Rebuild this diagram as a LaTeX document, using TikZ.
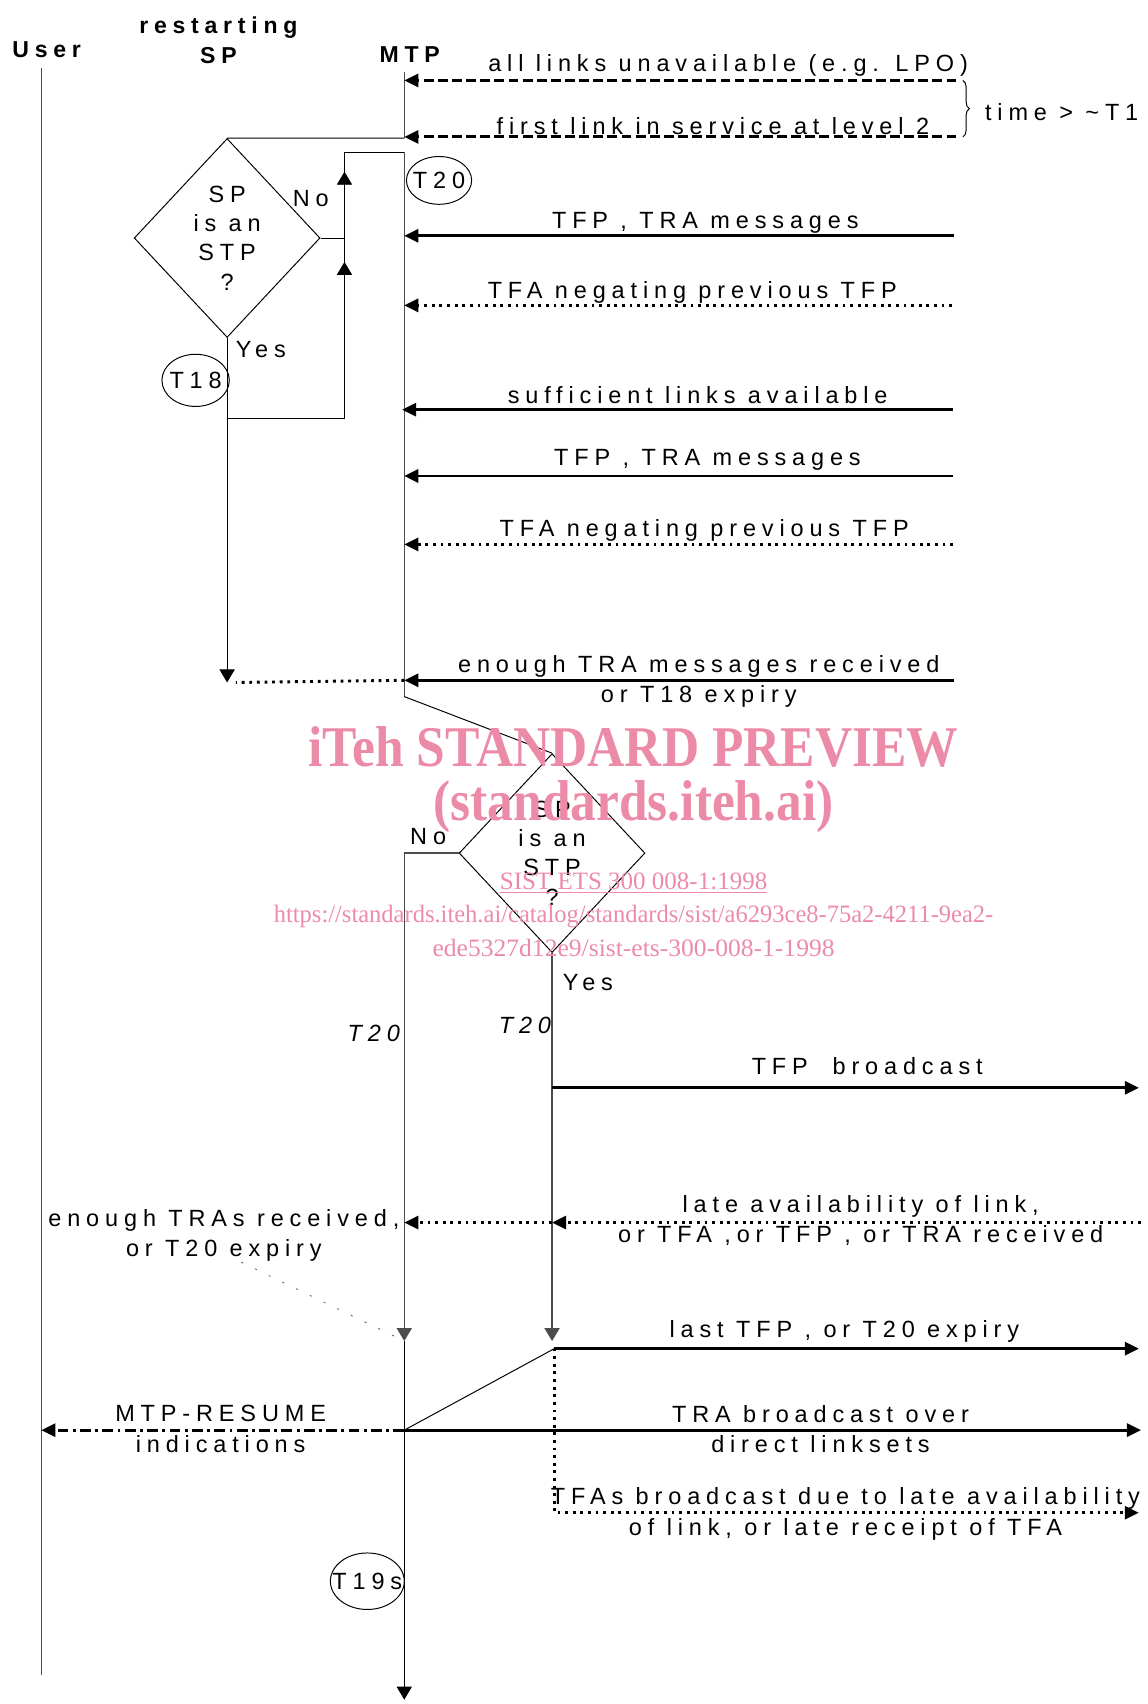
\documentclass[tikz,border=0pt]{standalone}
\usepackage{fontspec}
\setmainfont{Liberation Sans}
\newfontfamily\msgfont[LetterSpace=25]{Liberation Sans}
\newfontfamily\markfont{Liberation Serif}
\usepackage{graphicx}
\usepackage{xcolor}
\usepackage{tikz}
\usetikzlibrary{positioning, arrows.meta, shapes.geometric, calc, decorations.pathreplacing}

\definecolor{markpink}{RGB}{236,139,168}

\begin{document}
\begin{tikzpicture}[
    x=0.5pt, y=-0.5pt,
    txt/.style={font=\msgfont\fontsize{10.8}{14}\selectfont, align=center, inner sep=0pt},
    hdr/.style={txt, font=\msgfont\bfseries\fontsize{10.6}{13.5}\selectfont},
    timer/.style={txt, draw, ellipse, line width=0.45pt},
    decide/.style={txt, draw, diamond, line width=0.45pt, minimum width=85.5pt,
        minimum height=91.5pt, font=\msgfont\fontsize{10.8}{13.5}\selectfont},
    life/.style={draw=black!70, line width=0.6pt},
    flow/.style={draw=black, line width=0.45pt},
    flowarr/.style={flow, -{Triangle[length=6pt, width=7pt]}},
    msg/.style={-{Triangle[length=6.5pt, width=6pt]}, draw=black, line width=1.35pt},
    msgdash/.style={msg, dash pattern=on 4.5pt off 2pt},
    msgdot/.style={msg, dash pattern=on 1.3pt off 2.2pt},
    msgdashdot/.style={msg, dash pattern=on 5pt off 2pt on 1.3pt off 2pt},
    hint/.style={draw=black!60, line width=0.4pt, dash pattern=on 1pt off 6pt},
    wmark/.style={text=markpink, inner sep=0pt},
]
\useasboundingbox (0,0) rectangle (1056,1568);

% Lifeline heads
\node[hdr] (user) at (43,46) {User};
\node[hdr] (rsp) at (201,37) {restarting\\SP};
\node[hdr] (mtp) at (377,50) {MTP};

% Lifeline points
\coordinate (u0) at (38,63);
\coordinate (u1) at (38,1541);
\coordinate (m0) at (372,66);
\coordinate (m1) at (372,127);
\coordinate (m2) at (372,140);
\coordinate (m3) at (372,641);

% User lifeline
\draw[life] (u0) -- (u1);

% Link failure and first link in service
\coordinate (in1) at (880,74);
\coordinate (in2) at (880,126);
\draw[life] (m0) -- (m1);
\draw[msgdash] (in1) -- (in1 -| m0);
\draw[msgdash] (in2) -- (in2 -| m0);
\node[txt] (lin1) at (670,60) {all links unavailable (e.g. LPO)};
\node[txt] (lin2) at (656,116) {first link in service at level 2};
\coordinate (br1) at (886,74);
\coordinate (br2) at (886,126);
\draw[flow, decorate, decoration={brace, amplitude=3pt}] (br1) -- (br2);
\node[txt, anchor=west] (ltime) at (906,103) {time > \textasciitilde T1};

% Decision 1
\node[decide] (sp1) at (209,219) {SP\\is an\\STP\\?};
\draw[flow] (m1) -- (sp1.north);
\node[txt] (lno1) at (286,183) {No};
\node[txt] (lyes1) at (240,322) {Yes};

\coordinate (yj) at (209,385);
\coordinate (lpb) at (317,385);
\coordinate (nj) at (317,219);
\coordinate (lpt) at (317,140);
\coordinate (t18e) at (209,628);
\draw[flow] (sp1.south) -- (yj) -- (lpb) -- (nj) -- (lpt) -- (m2);
\draw[flow] (sp1.east) -- (nj);
\draw[flowarr] (lpb) -- ($(nj)+(0,22)$);
\draw[flowarr] (nj) -- ($(lpt)+(0,18)$);
\draw[flowarr] (yj) -- (t18e);

% Timers
\node[timer, minimum width=30pt, minimum height=22pt] (t20) at (404,166) {\makebox[0pt]{T20}};
\node[timer, minimum width=31pt, minimum height=24pt] (t18) at (180,350) {\makebox[0pt]{T18}};

% MTP after restart
\draw[life] (m2) -- (m3);

% Incoming messages during restart
\coordinate (in3) at (878,217);
\coordinate (in4) at (876,281);
\coordinate (in5) at (877,377);
\coordinate (in6) at (877,438);
\coordinate (in7) at (877,501);
\coordinate (in8) at (878,626);
\draw[msg] (in3) -- (in3 -| m0);
\draw[msgdot] (in4) -- (in4 -| m0);
\draw[msg] (in5) -- ([xshift=-1pt]in5 -| m0);
\draw[msg] (in6) -- (in6 -| m0);
\draw[msgdot] (in7) -- (in7 -| m0);
\draw[msg] (in8) -- (in8 -| m0);
\draw[msgdot, -] (in8 -| m0) -- ([xshift=4pt]t18e);
\node[txt] (lin3) at (649,205) {TFP , TRA messages};
\node[txt] (lin4) at (637,269) {TFA negating previous TFP};
\node[txt] (lin5) at (642,364) {sufficient links available};
\node[txt] (lin6) at (651,423) {TFP , TRA messages};
\node[txt] (lin7) at (648,488) {TFA negating previous TFP};
\node[txt] (lin8) at (643,627) {enough TRA messages received\\or T18 expiry};

% Decision 2
\node[decide] (sp2) at (508,785) {SP\\is an\\STP\\?};
\draw[flow] (m3) -- (sp2.north);
\node[txt] (lno2) at (394,770) {No};
\node[txt] (lyes2) at (541,904) {Yes};

\coordinate (nw) at (372,785);
\coordinate (mt20) at (372,1234);
\coordinate (st20) at (508,1234);
\coordinate (mres) at (372,1316);
\coordinate (mend) at (372,1564);
\coordinate (slast) at (510,1241);
\draw[life] (sp2.west) -- (nw);
\draw[life, -{Triangle[length=6pt, width=7pt]}] (nw) -- (mt20);
\draw[life, -{Triangle[length=6pt, width=7pt]}] (sp2.south) -- (st20);
\draw[flowarr] (mt20) -- (mend);
\draw[flow] (mres) -- (slast);
\node[txt, font=\msgfont\itshape\fontsize{10.8}{14}\selectfont] (lt20a) at (344,951) {T20};
\node[txt, font=\msgfont\itshape\fontsize{10.8}{14}\selectfont] (lt20b) at (483,944) {T20};

% Broadcasts and late events
\coordinate (rtfp) at (1048,1001);
\coordinate (rlate) at (1050,1125);
\coordinate (rlast) at (1048,1241);
\coordinate (rtra) at (1050,1316);
\coordinate (rtfa) at (1048,1392);
\draw[msg] (rtfp -| st20) -- (rtfp);
\draw[msgdot] (rlate) -- (rlate -| st20);
\draw[msgdot] (rlate -| st20) -- (rlate -| mt20);
\draw[msg] (slast) -- (rlast);
\draw[msg] (mres) -- (rtra);
\draw[msgdashdot] (mres) -- (mres -| u0);
\draw[msgdot] (slast) -- (rtfa -| slast) -- (rtfa);
\node[txt] (ltfp) at (798,981) {TFP \ broadcast};
\node[txt] (llate) at (792,1123) {late availability of link,\\or TFA ,or TFP , or TRA received};
\node[txt] (lenough) at (206,1137) {enough TRAs received,\\or T20 expiry};
\draw[hint] ([xshift=8pt]lenough.south) -- (mt20);
\node[txt] (llast) at (777,1225) {last TFP , or T20 expiry};
\node[txt] (lres) at (203,1315) {MTP-RESUME\\indications};
\node[txt] (ltra) at (755,1315) {TRA broadcast over\\direct linksets};
\node[txt] (ltfa) at (778,1393) {TFAs broadcast due to late availability\\of link, or late receipt of TFA};
\node[timer, minimum width=34pt, minimum height=26pt] (t19) at (338,1455) {\makebox[0pt]{T19s}};

% Watermark
\node[wmark, font=\markfont\bfseries\fontsize{26.5}{30}\selectfont] (wm1) at (583,687)
    {\resizebox{299pt}{\height}{iTeh STANDARD PREVIEW}};
\node[wmark, font=\markfont\bfseries\fontsize{26.5}{30}\selectfont] (wm2) at (583,742)
    {\resizebox{184pt}{\height}{(standards.iteh.ai)}};
\node[wmark, font=\markfont\fontsize{11.5}{13}\selectfont] (wm3) at (583,813)
    {\resizebox{123pt}{\height}{\underline{SIST ETS 300 008-1:1998}}};
\node[wmark, font=\markfont\fontsize{11.5}{13}\selectfont] (wm4) at (583,843)
    {\resizebox{331pt}{\height}{https://standards.iteh.ai/catalog/standards/sist/a6293ce8-75a2-4211-9ea2-}};
\node[wmark, font=\markfont\fontsize{11.5}{13}\selectfont] (wm5) at (583,872)
    {\resizebox{185pt}{\height}{ede5327d12e9/sist-ets-300-008-1-1998}};

\end{tikzpicture}
\end{document}
